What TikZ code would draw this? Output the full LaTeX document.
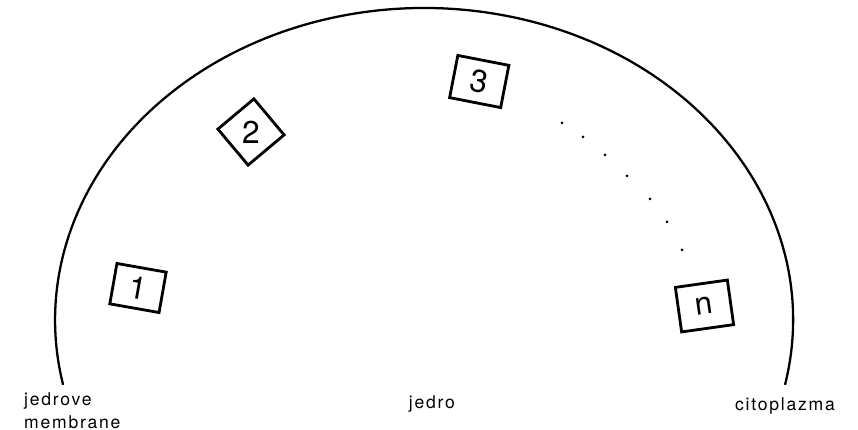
\documentclass[tikz,border=0pt]{standalone}
\usepackage{fontspec}
\setmainfont{TeX Gyre Heros}
\newfontfamily\labelfont[LetterSpace=10]{TeX Gyre Heros}
\usepackage{tikz}
\usetikzlibrary{positioning}

\begin{document}
\begin{tikzpicture}[cellbox/.style={draw,line width=1.6pt,inner sep=0pt,font=\fontsize{18}{20}\selectfont},
  lbl/.style={font=\labelfont\fontsize{10}{13}\selectfont}]
\useasboundingbox (0,0) rectangle (17.16,8.6);
\draw[line width=1.3pt] (15.70,0.903) arc[start angle=-12,end angle=192,x radius=7.38,y radius=6.24];
\node[cellbox,minimum width=1.0cm,minimum height=0.82cm,rotate=-10] (b1) at (2.76,2.84) {1};
\node[cellbox,minimum width=0.94cm,minimum height=0.94cm,rotate=40] (b2) at (5.02,5.96) {};
\node[font=\fontsize{18}{20}\selectfont] at (b2) {2};
\node[cellbox,minimum width=1.04cm,minimum height=0.86cm,rotate=-11] (b3) at (9.585,6.97) {3};
\node[cellbox,minimum width=1.05cm,minimum height=0.9cm,rotate=8] (bn) at (14.09,2.48) {n};
\foreach \p in {(11.24,6.14),(11.66,5.86),(12.10,5.50),(12.54,5.08),(13.00,4.62),(13.34,4.16),(13.64,3.60)}
  \fill \p circle (0.03);
\node[lbl,align=left,anchor=west] (memb) at (0.36,0.38) {jedrove\\membrane};
\node[lbl] (jedro) at (8.64,0.52) {jedro};
\node[lbl] (cito) at (15.7,0.48) {citoplazma};
\end{tikzpicture}
\end{document}
